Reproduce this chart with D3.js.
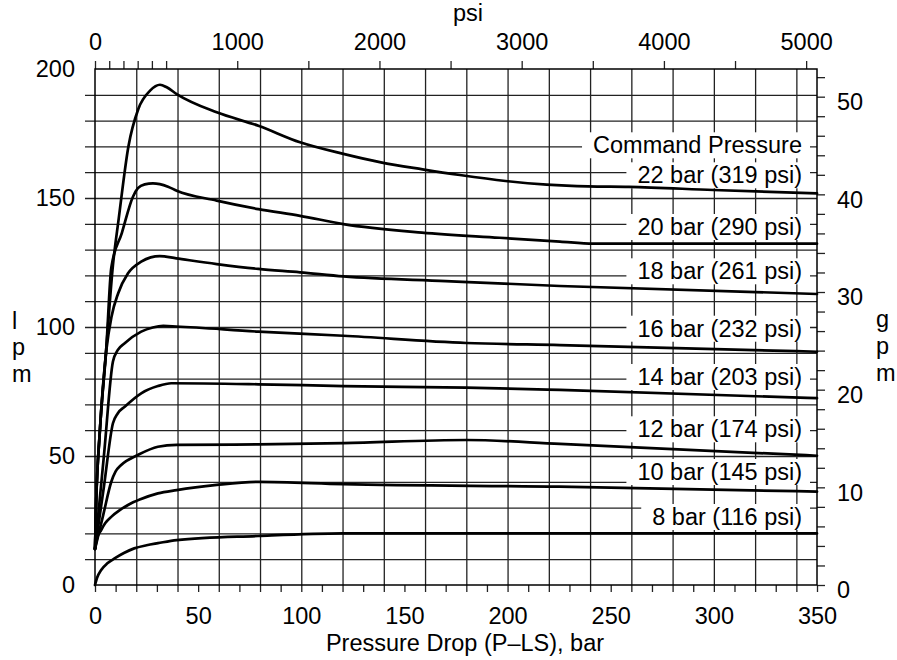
<!DOCTYPE html>
<html>
<head>
<meta charset="utf-8">
<script src="https://cdn.jsdelivr.net/npm/d3@7"></script>
<style>
  html, body { margin: 0; padding: 0; background: #fff; }
  svg { display: block; }
</style>
</head>
<body>
<svg id="chart" width="897" height="660"></svg>
<script>
// Flow (lpm) against pressure drop P–LS (bar), one curve per command pressure.
// Each point is [bar, lpm].
const bar22 = [[0,14],[0.6,33],[2.3,59],[5.5,92],[8.7,124],[11.5,142],[16.2,170],[21,184.5],[26.7,191.6],[31.5,193.9],[34.8,192.9],[39.6,190.3],[59,183.2],[79.2,178],[99.4,171.6],[120.4,167.1],[138.6,163.8],[158.8,161.1],[176.9,158.9],[199,156.6],[219,155.2],[239,154.5],[258.8,154.3],[299.7,153.1],[350,151.8]];
const bar20 = [[0,14],[0.6,33],[2.3,59],[5.5,92],[7.9,123],[13,136.4],[18.4,150.5],[20.8,153.8],[24.1,155.3],[28.1,155.7],[31.4,155.4],[35.4,154.4],[39.6,152.8],[59,149],[79.2,145.7],[99.4,143.1],[120.4,139.9],[158.5,136.6],[196,134.6],[225.4,133.1],[241.5,132.3],[350,132.3]];
const bar18 = [[0,14],[0.6,33],[2.3,59],[5.5,91],[8,104],[11.2,113],[16,120.8],[22.4,125.3],[27,127],[31.4,127.5],[39.4,126.6],[59,124.4],[79.2,122.5],[99.4,121.2],[120.4,119.6],[170,117.8],[225.4,115.9],[350,112.8]];
const bar16 = [[0,14],[4.35,50.3],[8.7,86.6],[11,91],[14.4,93.7],[22.4,98.2],[28,99.8],[33.1,100.4],[39.4,100.2],[79.2,98.2],[120.4,96.6],[180,93.8],[225.4,93],[350,90.4]];
const bar14 = [[0,14],[4.35,38.3],[8.7,62.7],[11,66.5],[14.4,69.1],[22.4,74.3],[30.5,77.1],[37,78.2],[79.2,77.8],[120.4,77.1],[180,76.5],[225.4,75.6],[350,72.4]];
const bar12 = [[0,14],[4,27.2],[7.9,40],[10,44],[12.7,46.5],[20.8,50.4],[30.5,53.6],[39.6,54.3],[79.2,54.5],[120.4,55],[180,56.2],[225.4,54.7],[350,50.1]];
const bar10 = [[0,14],[1,18],[3,21.3],[5,24],[8,26.5],[12,29],[16,31],[22,33.2],[30.5,35.5],[39.6,36.8],[59,38.8],[79.2,40],[120.4,39.1],[225,38.1],[350,36.2]];
const bar8  = [[0,0],[1,2.8],[3,5.8],[6,8.4],[9.5,10.3],[14,12.4],[19,14.2],[25,15.4],[30.5,16.2],[39.6,17.4],[79,19],[120,20],[350,20]];

const curves = [bar22, bar20, bar18, bar16, bar14, bar12, bar10, bar8];
const curveLabels = ["22 bar (319 psi)", "20 bar (290 psi)", "18 bar (261 psi)", "16 bar (232 psi)",
                     "14 bar (203 psi)", "12 bar (174 psi)", "10 bar (145 psi)", "8 bar (116 psi)"];
const legendTitle = "Command Pressure";

// Axis ticks
const barTickLabels = [0, 50, 100, 150, 200, 250, 300, 350];
const psiTickLabels = [0, 1000, 2000, 3000, 4000, 5000];
const psiMinorTicks = [0, 100, 200, 300, 400, 500, 1000, 1500, 2000, 2500, 3000, 3500, 4000, 4500, 5000];
const lpmTickLabels = [0, 50, 100, 150, 200];
const gpmTickLabels = [0, 10, 20, 30, 40, 50];

// ---- layout ----
const FONT = '"Liberation Sans", Arial, Helvetica, sans-serif';
const P = { left: 95, right: 817, top: 69, bottom: 585 };
const labelRight = 802;
const titleBaseline = 153.3;
const labelBaselines = [183.3, 235, 279.3, 336.7, 385, 437.3, 480, 525];

const PSI_PER_BAR = 14.5038;
const LPM_PER_GPM = 3.78541;

const x = d3.scaleLinear().domain([0, 350]).range([P.left, P.right]);
const y = d3.scaleLinear().domain([0, 200]).range([P.bottom, P.top]);
const xPsi = d3.scaleLinear().domain([0, 350 * PSI_PER_BAR]).range([P.left, P.right]);
const yGpm = d3.scaleLinear().domain([0, 200 / LPM_PER_GPM]).range([P.bottom, P.top]);
const plain = d3.format("d");

const svg = d3.select("#chart");
svg.append("rect").attr("width", 897).attr("height", 660).attr("fill", "#fff");

function styleAxis(g, size) {
  g.attr("font-family", FONT).attr("font-size", size);
  g.select(".domain").remove();
  g.selectAll("line").attr("stroke", "#222").attr("stroke-width", 1.3);
  g.selectAll("text").attr("fill", "#000");
}

// Vertical grid every 20 bar
svg.append("g")
  .attr("transform", `translate(0,${P.bottom})`)
  .call(d3.axisTop(x).tickValues(d3.range(20, 341, 20)).tickSize(P.bottom - P.top).tickFormat(""))
  .call(g => styleAxis(g, 23));

// Horizontal grid every 10 lpm, reaching past the left edge
svg.append("g")
  .attr("transform", `translate(${P.left - 10},0)`)
  .call(d3.axisRight(y).tickValues(d3.range(10, 191, 10)).tickSize(P.right - P.left + 10).tickFormat(""))
  .call(g => styleAxis(g, 23));

// Bottom axis: ticks every 10 bar, labels every 50
svg.append("g")
  .attr("transform", `translate(0,${P.bottom})`)
  .call(d3.axisBottom(x).tickValues(d3.range(0, 351, 10)).tickSize(7).tickFormat(""))
  .call(g => styleAxis(g, 23));
svg.append("g")
  .attr("transform", `translate(0,${P.bottom})`)
  .call(d3.axisBottom(x).tickValues(barTickLabels).tickSize(0).tickPadding(22).tickFormat(plain))
  .call(g => styleAxis(g, 23.5));

// Top axis in psi
svg.append("g")
  .attr("transform", `translate(0,${P.top})`)
  .call(d3.axisTop(xPsi).tickValues(psiMinorTicks).tickSize(8).tickFormat(""))
  .call(g => styleAxis(g, 23));
svg.append("g")
  .attr("transform", `translate(0,${P.top})`)
  .call(d3.axisTop(xPsi).tickValues(psiTickLabels).tickSize(0).tickPadding(19).tickFormat(plain))
  .call(g => styleAxis(g, 23.5));

// Left axis labels (lpm)
svg.append("g")
  .attr("transform", `translate(${P.left},0)`)
  .call(d3.axisLeft(y).tickValues(lpmTickLabels).tickSize(0).tickPadding(20).tickFormat(plain))
  .call(g => styleAxis(g, 23.5));

// Right axis in gpm
svg.append("g")
  .attr("transform", `translate(${P.right},0)`)
  .call(d3.axisRight(yGpm).tickValues(d3.range(0, 53, 2)).tickSize(8).tickFormat(""))
  .call(g => styleAxis(g, 23));
svg.append("g")
  .attr("transform", `translate(${P.right},0)`)
  .call(d3.axisRight(yGpm).tickValues(gpmTickLabels).tickSize(0).tickPadding(20).tickFormat(plain))
  .call(g => { styleAxis(g, 23.5); g.selectAll("text").attr("dy", "0.54em"); });

// Frame
svg.append("rect")
  .attr("x", P.left).attr("y", P.top)
  .attr("width", P.right - P.left).attr("height", P.bottom - P.top)
  .attr("fill", "none").attr("stroke", "#000").attr("stroke-width", 1.5);

// Axis titles
const txt = svg.append("g").attr("font-family", FONT).attr("font-size", 23.5).attr("fill", "#000");
txt.append("text").attr("x", 468).attr("y", 20.5).attr("text-anchor", "middle").text("psi");
txt.append("text").attr("x", 465).attr("y", 651).attr("text-anchor", "middle").text("Pressure Drop (P–LS), bar");
["l", "p", "m"].forEach((c, i) =>
  txt.append("text").attr("x", 12).attr("y", 328.5 + i * 26.9).text(c));
["g", "p", "m"].forEach((c, i) =>
  txt.append("text").attr("x", 876).attr("y", 327.3 + i * 26.9).text(c));

// Curve labels on white panels
const labels = svg.append("g").attr("font-family", FONT).attr("font-size", 23.5);
function panelLabel(str, baseline) {
  const g = labels.append("g");
  const box = g.append("rect").attr("fill", "#fff");
  const t = g.append("text").attr("x", labelRight).attr("y", baseline)
    .attr("text-anchor", "end").attr("fill", "#000").text(str);
  const w = t.node().getComputedTextLength();
  box.attr("x", labelRight - w - 11).attr("y", baseline - 21)
     .attr("width", w + 19).attr("height", 26);
}
panelLabel(legendTitle, titleBaseline);
curveLabels.forEach((s, i) => panelLabel(s, labelBaselines[i]));

// Curves
const line = d3.line().x(d => x(d[0])).y(d => y(d[1])).curve(d3.curveMonotoneX);
svg.append("g").selectAll("path").data(curves).join("path")
  .attr("d", line)
  .attr("fill", "none").attr("stroke", "#000").attr("stroke-width", 2.7)
  .attr("stroke-linejoin", "round").attr("stroke-linecap", "round");
</script>
</body>
</html>
